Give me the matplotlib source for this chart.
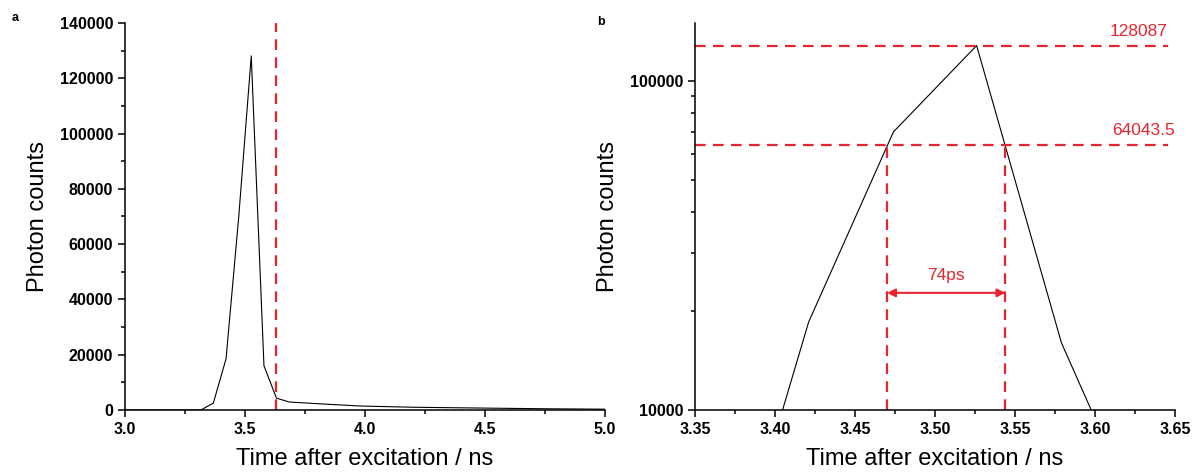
import numpy as np
import matplotlib
matplotlib.use('Agg')
import matplotlib.pyplot as plt
from matplotlib.ticker import MultipleLocator, FixedLocator, NullFormatter

plt.rcParams['font.family'] = ['Liberation Sans', 'DejaVu Sans']

# datos
t = [3.0, 3.316, 3.368, 3.421, 3.474, 3.526, 3.579, 3.631, 3.684, 3.80, 3.98, 4.2, 4.49, 4.75, 5.0]
counts = [0, 0, 2500, 18500, 70000, 128087, 16000, 4300, 2900, 2300, 1450, 1000, 700, 450, 300]

pico = 128087
mitad = 64043.5
t_izq = 3.470
t_der = 3.544
t_corte = 3.629
etiqueta_fwhm = '74ps'

rojo = '#e52630'
dash = (4.8, 3.3)

fig = plt.figure(figsize=(11.95, 4.74), dpi=100)
ax1 = fig.add_axes([0.1046, 0.135, 0.4017, 0.8165])
ax2 = fig.add_axes([0.5816, 0.135, 0.4017, 0.8165])

for ax in (ax1, ax2):
    ax.spines['top'].set_visible(False)
    ax.spines['right'].set_visible(False)
    for s in ('left', 'bottom'):
        ax.spines[s].set_linewidth(1.1)
    ax.tick_params(which='major', direction='out', length=5, width=1.1, labelsize=11.5)
    ax.tick_params(which='minor', direction='out', length=3, width=1.1)
    ax.set_xlabel('Time after excitation / ns', fontsize=17, labelpad=8)
    ax.set_ylabel('Photon counts', fontsize=17, labelpad=8)

# panel a
ax1.plot(t, counts, color='black', lw=0.8)
ax1.axvline(t_corte, color=rojo, lw=1.6, dashes=dash)
ax1.set_xlim(3.0, 5.0)
ax1.set_ylim(0, 140000)
ax1.xaxis.set_major_locator(MultipleLocator(0.5))
ax1.xaxis.set_minor_locator(MultipleLocator(0.25))
ax1.yaxis.set_major_locator(MultipleLocator(20000))
ax1.yaxis.set_minor_locator(MultipleLocator(10000))
ax1.xaxis.set_major_formatter(matplotlib.ticker.FormatStrFormatter('%.1f'))

# panel b (escala log)
ax2.plot(t, counts, color='black', lw=0.8)
ax2.set_yscale('log')
ax2.set_xlim(3.35, 3.65)
ax2.set_ylim(10000, 150000)
ax2.xaxis.set_major_locator(MultipleLocator(0.05))
ax2.xaxis.set_minor_locator(MultipleLocator(0.025))
ax2.xaxis.set_major_formatter(matplotlib.ticker.FormatStrFormatter('%.2f'))
ax2.yaxis.set_major_locator(FixedLocator([10000, 100000]))
ax2.yaxis.set_major_formatter(matplotlib.ticker.FuncFormatter(lambda v, p: '%d' % v))
ax2.yaxis.set_minor_locator(FixedLocator([20000, 30000, 40000, 50000, 60000, 70000, 80000, 90000]))
ax2.yaxis.set_minor_formatter(NullFormatter())

ax2.axhline(pico, xmin=0, xmax=0.985, color=rojo, lw=1.6, dashes=dash)
ax2.axhline(mitad, xmin=0, xmax=0.985, color=rojo, lw=1.6, dashes=dash)
ax2.plot([t_izq, t_izq], [10000, mitad], color=rojo, lw=1.6, dashes=dash)
ax2.plot([t_der, t_der], [10000, mitad], color=rojo, lw=1.6, dashes=dash)
ax2.text(3.645, pico * 1.05, str(pico), color=rojo, fontsize=12.5, ha='right', va='bottom')
ax2.text(3.65, mitad * 1.05, '64043.5', color=rojo, fontsize=12.5, ha='right', va='bottom')
ax2.annotate('', xy=(t_izq, 22700), xytext=(t_der, 22700),
             arrowprops=dict(arrowstyle='<|-|>', color=rojo, lw=1.5, mutation_scale=12,
                             shrinkA=0, shrinkB=0))
ax2.text((t_izq + t_der) / 2, 24300, etiqueta_fwhm, color=rojo, fontsize=12.5, ha='center', va='bottom')

for ax in (ax1, ax2):
    for lab in ax.get_xticklabels() + ax.get_yticklabels():
        lab.set_fontweight('bold')

fig.text(0.010, 0.955, 'a', fontsize=9, fontweight='bold')
fig.text(0.500, 0.947, 'b', fontsize=9, fontweight='bold')

fig.savefig('out.png', dpi=100)
